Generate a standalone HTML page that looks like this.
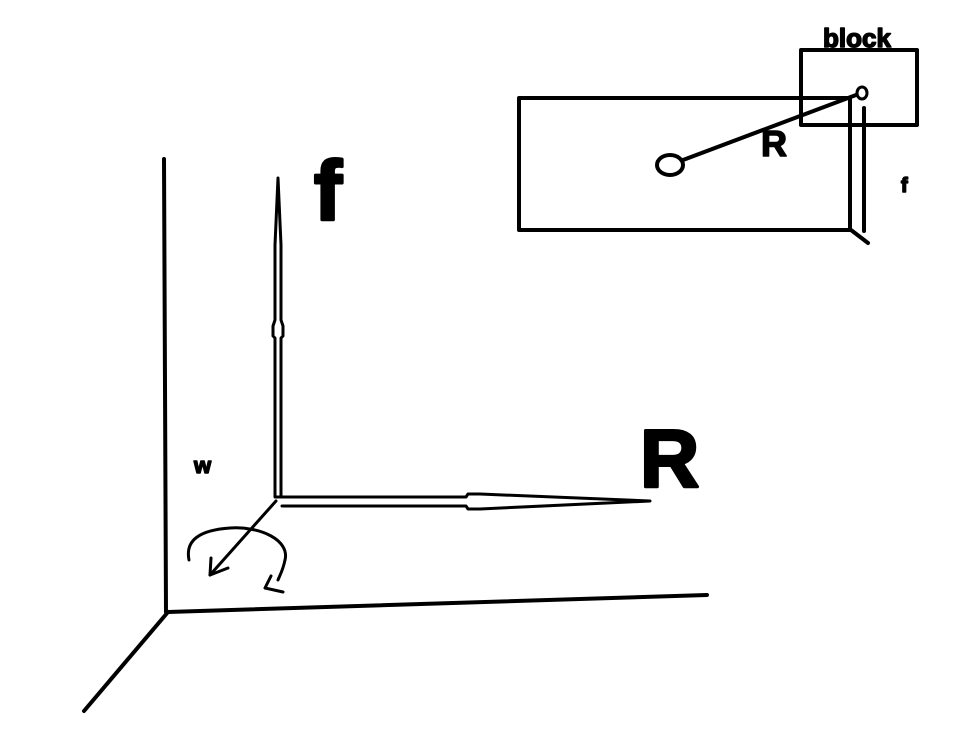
<!DOCTYPE html>
<html><head><meta charset="utf-8"><style>
html,body{margin:0;padding:0;background:#fff;width:958px;height:753px;overflow:hidden}
svg{display:block}
text{font-family:"Liberation Sans",sans-serif;font-weight:bold;fill:#000}
</style></head><body>
<svg width="958" height="753" viewBox="0 0 958 753" fill="none" stroke="#000" stroke-linecap="round" stroke-linejoin="round">
<g>
<rect x="519" y="98" width="331" height="132" stroke-width="4"/>
<rect x="801" y="50" width="116" height="75" stroke-width="4"/>
<ellipse cx="670" cy="165" rx="13" ry="10" stroke-width="4"/>
<ellipse cx="862" cy="93" rx="5" ry="6" stroke-width="3"/>
<line x1="683" y1="160" x2="856" y2="95" stroke-width="4"/>
<line x1="864" y1="108" x2="864" y2="231" stroke-width="4"/>
<line x1="851" y1="230" x2="868" y2="243" stroke-width="4"/>
<text x="761" y="156" font-size="36" stroke-width="1.5" style="stroke:#000">R</text>
<text x="823" y="47" font-size="26" stroke-width="1.5" style="stroke:#000">block</text>
<text x="901" y="192" font-size="20" stroke-width="1.5" style="stroke:#000">f</text>
</g>
<g>
<line x1="164" y1="159" x2="166" y2="612" stroke-width="4"/>
<line x1="168" y1="612" x2="707" y2="595" stroke-width="4"/>
<line x1="168" y1="612" x2="84" y2="711" stroke-width="4"/>
<path d="M275,497 L275,338 L273,336 L273,326 L275,320 L275,245 L278,178 L281,245 L281,320 L283,326 L283,336 L281,338 L281,497" stroke-width="3"/>
<path d="M276,497 L466,497 L468,494 L480,494 L650,501 L480,509 L468,509 L466,506 L282,506" stroke-width="3"/>
<line x1="276" y1="501" x2="210" y2="575" stroke-width="3"/>
<path d="M211,558 L210,575 L228,568" stroke-width="3"/>
<path d="M189,560 C185,540 200,530 230,528 C260,526 290,540 285,560 C283,570 280,575 278,580" stroke-width="3"/>
<path d="M271,576 L265,588 L283,592" stroke-width="3"/>
<text x="314" y="220" font-size="84" stroke-width="3" style="stroke:#000">f</text>
<text x="640" y="487" font-size="82" stroke-width="3" style="stroke:#000">R</text>
<text x="194" y="473" font-size="22" stroke-width="1.5" style="stroke:#000">w</text>
</g>
</svg>
</body></html>
